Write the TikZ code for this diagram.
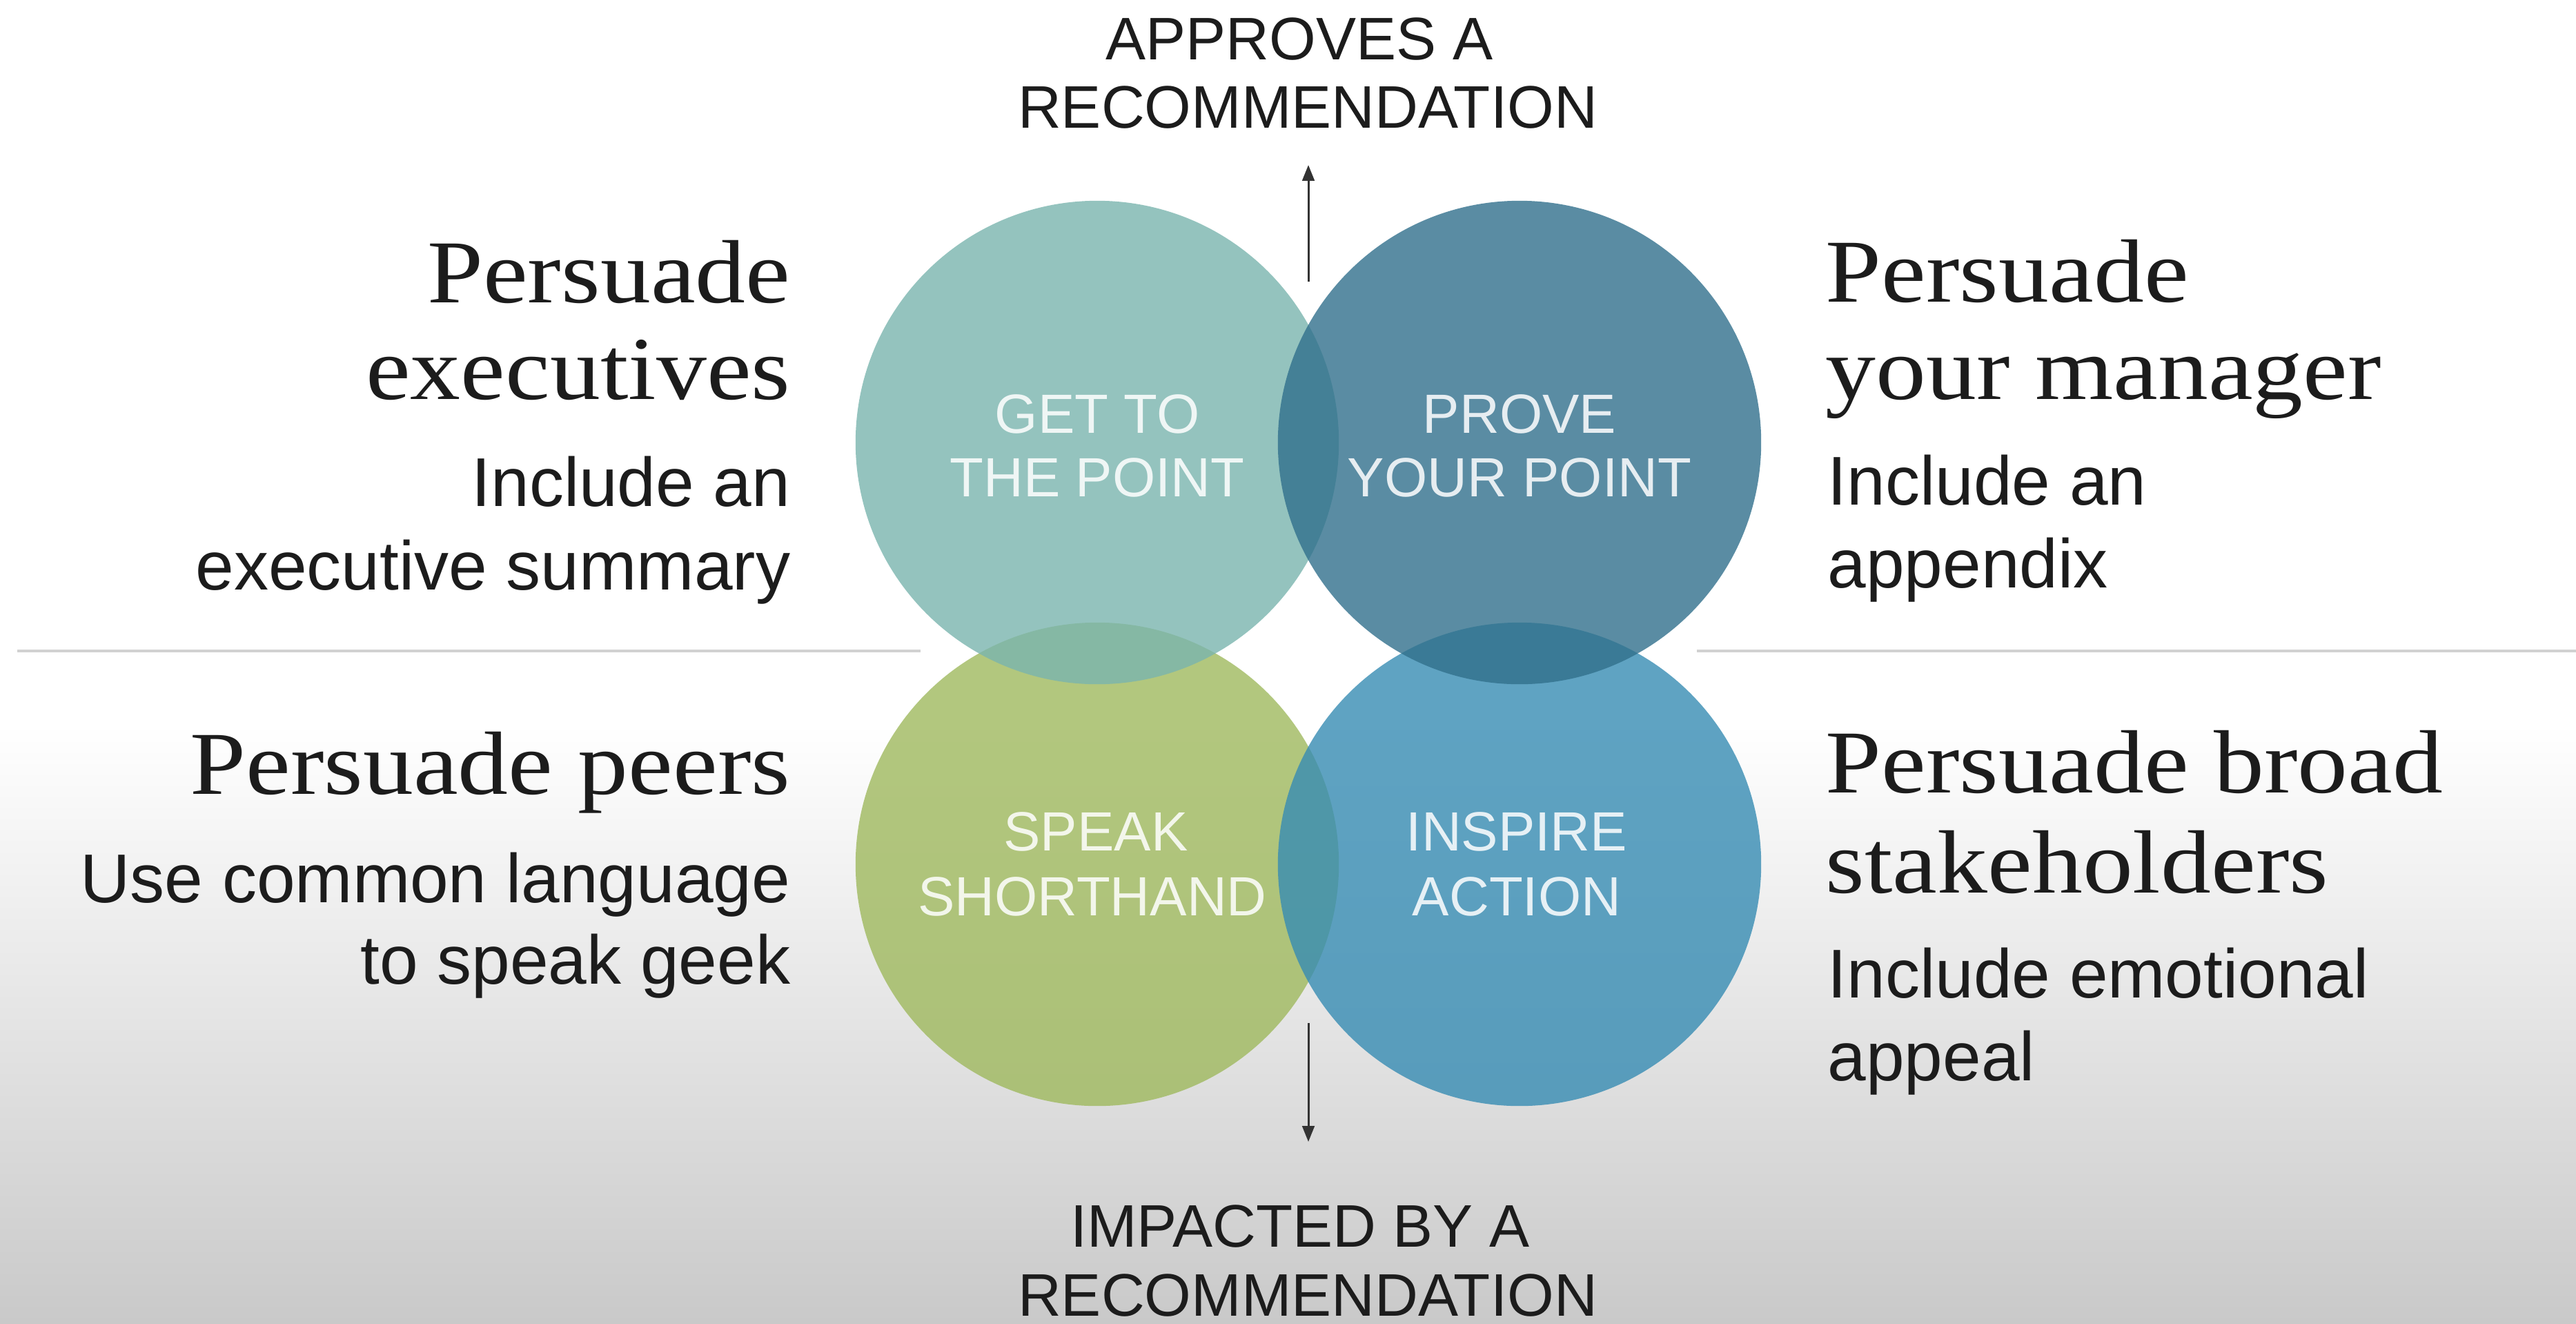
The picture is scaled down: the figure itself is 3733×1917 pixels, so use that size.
\documentclass[tikz,border=0pt]{standalone}
\usepackage{fontspec}
\setmainfont{Liberation Sans}
\newfontfamily\headfont{Liberation Serif}[FakeStretch=1.12]
\usetikzlibrary{arrows.meta}

\definecolor{discTL}{HTML}{7AB5AE}
\definecolor{discTR}{HTML}{31708C}
\definecolor{discBL}{HTML}{9FB95E}
\definecolor{discBR}{HTML}{378CB3}
\definecolor{groundgray}{HTML}{C9C9C9}
\definecolor{inkdark}{HTML}{1C1C1C}

\begin{document}
\begin{tikzpicture}[x=0.01cm,y=-0.01cm,
  heading/.style={font=\headfont\fontsize{37pt}{40pt}\selectfont, text=inkdark, inner sep=0pt},
  body/.style={font=\fontsize{28.45pt}{34pt}\selectfont, text=inkdark, inner sep=0pt},
  axislabel/.style={font=\fontsize{24.75pt}{28pt}\selectfont, text=inkdark, inner sep=0pt, anchor=base},
  disc/.style={circle, minimum size=7cm, inner sep=0pt, fill opacity=0.8},
  disctext/.style={font=\fontsize{22.76pt}{26pt}\selectfont, text=white, text opacity=0.85, inner sep=0pt, anchor=base},
  sepline/.style={draw=black!18, line width=1pt},
  flow/.style={draw=black!80, line width=0.85pt, -{Triangle[width=5pt,length=6.5pt]}}
]
\useasboundingbox (0,0) rectangle (3733,1917);

% background: white, fading to light gray at the bottom
\fill[white] (0,0) rectangle (3733,1060);
\shade[top color=white, bottom color=groundgray] (0,1050) rectangle (3733,1917);

% horizontal separators
\coordinate (sepLa) at (25,943);
\coordinate (sepLb) at (1334,943);
\coordinate (sepRa) at (2459,943);
\coordinate (sepRb) at (3733,943);
\draw[sepline] (sepLa) -- (sepLb);
\draw[sepline] (sepRa) -- (sepRb);

% four overlapping discs
\node[disc, fill=discBL] (bl) at (1590,1252) {};
\node[disc, fill=discBR] (br) at (2202,1252) {};
\node[disc, fill=discTL] (tl) at (1590,641) {};
\node[disc, fill=discTR] (tr) at (2202,641) {};

% disc captions
\node[disctext] (tlA) at (1590,627) {GET TO};
\node[disctext] (tlB) at (1590,719) {THE POINT};
\node[disctext] (trA) at (2202,627) {PROVE};
\node[disctext] (trB) at (2202,719) {YOUR POINT};
\node[disctext] (blA) at (1588,1232) {SPEAK};
\node[disctext] (blB) at (1583,1326) {SHORTHAND};
\node[disctext] (brA) at (2198,1232) {INSPIRE};
\node[disctext] (brB) at (2198,1326) {ACTION};

% vertical axis labels
\node[axislabel] (upA) at (1883,86) {APPROVES A};
\node[axislabel] (upB) at (1895,185) {RECOMMENDATION};
\node[axislabel] (dnA) at (1884,1806) {IMPACTED BY A};
\node[axislabel] (dnB) at (1895,1906) {RECOMMENDATION};

% axis arrows
\coordinate (upTail) at (1896,408);
\coordinate (upTip) at (1896,239);
\coordinate (dnTail) at (1896,1482);
\coordinate (dnTip) at (1896,1654);
\draw[flow] (upTail) -- (upTip);
\draw[flow] (dnTail) -- (dnTip);

% left column
\node[heading, anchor=base east] (execH1) at (1146,438) {Persuade};
\node[heading, anchor=base east] (execH2) at (1146,578) {executives};
\node[body, anchor=base east] (execB1) at (1146,733) {Include an};
\node[body, anchor=base east] (execB2) at (1146,854) {executive summary};
\node[heading, anchor=base east] (peerH1) at (1146,1150) {Persuade peers};
\node[body, anchor=base east] (peerB1) at (1146,1307) {Use common language};
\node[body, anchor=base east] (peerB2) at (1146,1425) {to speak geek};

% right column
\node[heading, anchor=base west] (mgrH1) at (2645,437) {Persuade};
\node[heading, anchor=base west] (mgrH2) at (2645,578) {your manager};
\node[body, anchor=base west] (mgrB1) at (2648,731) {Include an};
\node[body, anchor=base west] (mgrB2) at (2648,851) {appendix};
\node[heading, anchor=base west] (stkH1) at (2645,1148) {Persuade broad};
\node[heading, anchor=base west] (stkH2) at (2645,1293) {stakeholders};
\node[body, anchor=base west] (stkB1) at (2648,1445) {Include emotional};
\node[body, anchor=base west] (stkB2) at (2648,1565) {appeal};
\end{tikzpicture}
\end{document}
